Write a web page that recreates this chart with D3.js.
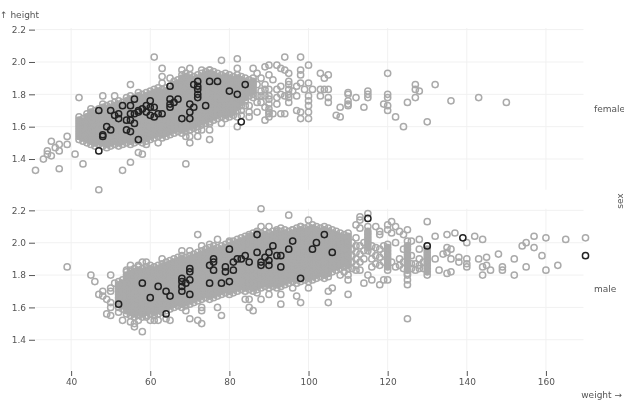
<!DOCTYPE html>
<html><head><meta charset="utf-8">
<script src="https://cdn.jsdelivr.net/npm/d3@7"></script>
<style>
html,body{margin:0;padding:0;background:#fff}
svg{display:block;overflow:hidden;filter:blur(0.4px)}
text{font-family:"DejaVu Sans",sans-serif;font-size:9px;fill:#555}
</style></head><body>
<script>
// Each row: weight (kg) followed by the heights (cm) seen at that weight.
const femaleDense = [
[42,152,154,156,158,160,162,164,166],
[43,151,153,155,157,159,161,163,165],
[44,150,152,154,156,158,160,162,164,166,168],
[45,149,151,153,155,157,159,161,163,165,167,169,171],
[46,148,150,152,154,156,158,160,162,164,166,168,170],
[47,149,151,153,155,157,159,161,163,165,167,169,171],
[48,148,150,152,154,156,158,160,162,164,166,168,170,172,174],
[49,147,149,151,153,155,157,159,161,163,165,167,169,171,173],
[50,148,150,152,154,156,158,160,162,164,166,168,170,172,174],
[51,149,151,153,155,157,159,161,163,165,167,169,171,173,175],
[52,148,150,152,154,156,158,160,162,164,166,168,170,172,174,176],
[53,149,151,153,155,157,159,161,163,165,167,169,171,173,175],
[54,150,152,154,156,158,160,162,164,166,168,170,172,174,176,178],
[55,149,151,153,155,157,159,161,163,165,167,169,171,173,175,177,179],
[56,150,152,154,156,158,160,162,164,166,168,170,172,174,176,178],
[57,151,153,155,157,159,161,163,165,167,169,171,173,175,177,179,181],
[58,150,152,154,156,158,160,162,164,166,168,170,172,174,176,178,180],
[59,151,153,155,157,159,161,163,165,167,169,171,173,175,177,179,181],
[60,152,154,156,158,160,162,164,166,168,170,172,174,176,178,180,182],
[61,153,155,157,159,161,163,165,167,169,171,173,175,177,179,181,183],
[62,154,156,158,160,162,164,166,168,170,172,174,176,178,180,182,184],
[63,153,155,157,159,161,163,165,167,169,171,173,175,177,179,181,183],
[64,154,156,158,160,162,164,166,168,170,172,174,176,178,180,182,184],
[65,155,157,159,161,163,165,167,169,171,173,175,177,179,181,183,185],
[66,156,158,160,162,164,166,168,170,172,174,176,178,180,182,184,186,188],
[67,157,159,161,163,165,167,169,171,173,175,177,179,181,183,185,187,189],
[68,156,158,160,162,164,166,168,170,172,174,176,178,180,182,184,186,188,190,192],
[69,157,159,161,163,165,167,169,171,173,175,177,179,181,183,185,187,189,191,193],
[70,158,160,162,164,166,168,170,172,174,176,178,180,182,184,186,188,190,192],
[71,159,161,163,165,167,169,171,173,175,177,179,181,183,185,187,189,191],
[72,160,162,164,166,168,170,172,174,176,178,180,182,184,186,188,190,192],
[73,161,163,165,167,169,171,173,175,177,179,181,183,185,187,189,191,193],
[74,162,164,166,168,170,172,174,176,178,180,182,184,186,188,190,192,194],
[75,163,165,167,169,171,173,175,177,179,181,183,185,187,189,191,193,195],
[76,164,166,168,170,172,174,176,178,180,182,184,186,188,190,192,194],
[77,165,167,169,171,173,175,177,179,181,183,185,187,189,191,193],
[78,166,168,170,172,174,176,178,180,182,184,186,188,190,192],
[79,165,167,169,171,173,175,177,179,181,183,185,187,189,191,193],
[80,166,168,170,172,174,176,178,180,182,184,186,188,190,192],
[81,167,169,171,173,175,177,179,181,183,185,187,189,191],
[82,170,172,174,176,178,180,182,184,186,188,190,192],
[83,173,175,177,179,181,183,185,187,189,191],
[84,176,178,180,182,184,186,188,190],
[85,179,181,183,185,187,189],
[86,180,182,184,186,188,190]
];
const femaleSparse = [
[31,133],[33,140],[34,145],[34,143],[35,151],[35,142],[36,147],[37,149],[37,145],[37,134],[39,149],[39,154],[41,143],[42,178],[43,137],
[47,121],[48,179],[51,179],[53,133],[55,138],[55,186],[57,144],[58,143],[59,149],[62,150],[69,137],[61,203],[63,196],[63,191],[63,187],[65,190],
[68,195],[70,196],[73,195],[75,195],[78,201],[82,202],[82,196],[75,152],[72,154],[70,150],[73,158],[70,158],[70,154],[75,158],[75,162],[72,158],[69,154],
[78,162],[82,160],[83,167],[85,166],[87,169],[89,164],[90,166],[90,169],[89,172],[86,196],[89,197],[90,198],[92,198],[93,196],[94,195],[95,193],[94,203],
[98,203],[98,195],[98,192],[100,198],[103,193],[87,193],[88,190],[90,192],[91,189],[89,186],[87,186],[88,182],[90,183],[86,178],[87,175],[87,179],[88,179],[88,175],
[89,179],[89,183],[90,179],[90,177],[90,174],[90,171],[90,168],[95,188],[95,186],[95,183],[95,180],[95,178],[95,175],[93,185],[94,179],[97,179],[98,187],[100,187],[101,183],
[99,183],[103,179],[100,179],[100,176],[100,173],[100,169],[100,165],[98,169],[98,165],[97,170],[94,168],[93,168],[92,174],[91,168],[85,173],[85,169],[84,173],[83,170],[82,166],
[93,180],[92,183],[96,182],[97,185],[92,178],[103,183],[104,190],[105,192],[104,183],[105,183],[105,178],[105,175],[107,167],[108,166],[108,172],[110,181],[110,180],[110,176],[110,174],[110,173],
[112,178],[114,172],[115,182],[115,180],[115,178],[119,174],[120,193],[120,180],[120,178],[120,173],[120,170],[122,166],[124,160],[125,175],[127,186],[127,183],[127,178],[128,182],[130,163],[132,186],
[136,176],[143,178],[150,175]
];
const femaleMarked = [
[47,170],[47,145],[48,154],[48,155],[49,160],[50,158],[50,170],[51,167],[52,168],[52,165],[53,173],[54,164],[54,158],[55,173],[55,168],[55,157],[55,164],[56,177],[56,168],[56,162],
[57,170],[57,169],[57,152],[58,171],[59,173],[59,169],[60,176],[60,172],[60,167],[61,172],[61,166],[62,168],[63,168],[65,185],[65,177],[65,174],[65,172],[66,175],[67,177],[68,165],
[70,174],[70,169],[70,165],[71,186],[71,172],[72,188],[72,185],[72,183],[72,180],[72,178],[74,173],[75,188],[77,188],[80,182],[82,180],[83,163],[84,186]
];
const maleDense = [
[52,160,162,164,166,168,170,172,174,176],
[53,159,161,163,165,167,169,171,173,175,177],
[54,156,158,160,162,164,166,168,170,172,174,176,178,180,182],
[55,155,157,159,161,163,165,167,169,171,173,175,177,179,181,183],
[56,154,156,158,160,162,164,166,168,170,172,174,176,178,180,182,184],
[57,155,157,159,161,163,165,167,169,171,173,175,177,179,181,183,185],
[58,154,156,158,160,162,164,166,168,170,172,174,176,178,180,182,184],
[59,155,157,159,161,163,165,167,169,171,173,175,177,179,181,183,185],
[60,156,158,160,162,164,166,168,170,172,174,176,178,180,182,184,186],
[61,155,157,159,161,163,165,167,169,171,173,175,177,179,181,183,185],
[62,156,158,160,162,164,166,168,170,172,174,176,178,180,182,184,186],
[63,157,159,161,163,165,167,169,171,173,175,177,179,181,183,185,187],
[64,158,160,162,164,166,168,170,172,174,176,178,180,182,184,186,188],
[65,159,161,163,165,167,169,171,173,175,177,179,181,183,185,187,189],
[66,160,162,164,166,168,170,172,174,176,178,180,182,184,186,188,190],
[67,161,163,165,167,169,171,173,175,177,179,181,183,185,187,189,191],
[68,160,162,164,166,168,170,172,174,176,178,180,182,184,186,188,190,192],
[69,161,163,165,167,169,171,173,175,177,179,181,183,185,187,189,191],
[70,162,164,166,168,170,172,174,176,178,180,182,184,186,188,190,192],
[71,163,165,167,169,171,173,175,177,179,181,183,185,187,189,191,193],
[72,164,166,168,170,172,174,176,178,180,182,184,186,188,190,192,194],
[73,165,167,169,171,173,175,177,179,181,183,185,187,189,191,193,195],
[74,166,168,170,172,174,176,178,180,182,184,186,188,190,192,194,196],
[75,165,167,169,171,173,175,177,179,181,183,185,187,189,191,193,195,197],
[76,166,168,170,172,174,176,178,180,182,184,186,188,190,192,194,196,198],
[77,167,169,171,173,175,177,179,181,183,185,187,189,191,193,195,197],
[78,168,170,172,174,176,178,180,182,184,186,188,190,192,194,196,198],
[79,169,171,173,175,177,179,181,183,185,187,189,191,193,195,197,199],
[80,168,170,172,174,176,178,180,182,184,186,188,190,192,194,196,198,200],
[81,169,171,173,175,177,179,181,183,185,187,189,191,193,195,197,199,201],
[82,170,172,174,176,178,180,182,184,186,188,190,192,194,196,198,200,202],
[83,171,173,175,177,179,181,183,185,187,189,191,193,195,197,199,201,203],
[84,170,172,174,176,178,180,182,184,186,188,190,192,194,196,198,200,202,204],
[85,171,173,175,177,179,181,183,185,187,189,191,193,195,197,199,201,203,205],
[86,170,172,174,176,178,180,182,184,186,188,190,192,194,196,198,200,202,204,206],
[87,171,173,175,177,179,181,183,185,187,189,191,193,195,197,199,201,203,205,207],
[88,172,174,176,178,180,182,184,186,188,190,192,194,196,198,200,202,204,206],
[89,173,175,177,179,181,183,185,187,189,191,193,195,197,199,201,203,205,207],
[90,172,174,176,178,180,182,184,186,188,190,192,194,196,198,200,202,204,206],
[91,173,175,177,179,181,183,185,187,189,191,193,195,197,199,201,203,205,207],
[92,172,174,176,178,180,182,184,186,188,190,192,194,196,198,200,202,204,206,208],
[93,173,175,177,179,181,183,185,187,189,191,193,195,197,199,201,203,205,207],
[94,174,176,178,180,182,184,186,188,190,192,194,196,198,200,202,204,206,208],
[95,175,177,179,181,183,185,187,189,191,193,195,197,199,201,203,205,207],
[96,176,178,180,182,184,186,188,190,192,194,196,198,200,202,204,206,208],
[97,175,177,179,181,183,185,187,189,191,193,195,197,199,201,203,205,207,209],
[98,176,178,180,182,184,186,188,190,192,194,196,198,200,202,204,206,208,210],
[99,177,179,181,183,185,187,189,191,193,195,197,199,201,203,205,207,209],
[100,176,178,180,182,184,186,188,190,192,194,196,198,200,202,204,206,208,210],
[101,177,179,181,183,185,187,189,191,193,195,197,199,201,203,205,207,209,211],
[102,178,180,182,184,186,188,190,192,194,196,198,200,202,204,206,208,210],
[103,179,181,183,185,187,189,191,193,195,197,199,201,203,205,207,209],
[104,178,180,182,184,186,188,190,192,194,196,198,200,202,204,206,208,210],
[105,179,181,183,185,187,189,191,193,195,197,199,201,203,205,207,209],
[106,182,184,186,188,190,192,194,196,198,200,202,204,206,208],
[107,183,185,187,189,191,193,195,197,199,201,203,205,207],
[108,184,186,188,190,192,194,196,198,200,202,204,206],
[109,185,187,189,191,193,195,197,199,201,203,205],
[110,184,186,188,190,192,194,196,198,200,202,204,206],
[115,195,197,199,201,203,205,207,210],
[120,183,185,187,189,191,193,195,197,199],
[125,181,183,186,188,191,193,196,198,201],
[130,180,182,184,186,188,190,192,194,196,198]
];
const maleSparse = [
[39,185],[45,180],[46,176],[47,168],[48,170],[48,167],[49,165],[49,156],[50,180],[50,155],[50,172],[50,170],[50,163],[50,160],[51,175],[52,157],[53,152],[54,183],[55,151],
[56,150],[56,148],[57,152],[58,145],[59,154],[60,152],[61,152],[62,152],[64,153],[65,152],[70,153],[72,152],[73,150],[73,158],[73,160],[69,158],[77,160],[78,155],[77,202],[72,205],[75,199],[73,198],[68,195],[70,195],
[63,190],[59,188],[58,188],[57,186],[55,186],[88,221],[95,217],[100,214],[88,210],[90,210],[93,209],[96,208],[98,210],[87,206],[92,207],[85,204],[80,201],[88,165],[93,162],[98,163],[97,167],[96,172],[90,168],[86,158],[85,160],[84,165],[85,165],[93,168],[87,169],[100,172],
[105,163],[105,170],[106,172],[110,168],[108,180],[110,177],[114,175],[115,180],[116,177],[118,174],[119,177],[120,177],[125,153],[125,174],[125,177],[125,180],[115,218],[113,216],[113,214],[112,211],[117,210],[118,207],[120,211],[121,213],[120,208],[122,210],[123,207],[125,208],[124,205],[126,201],[128,202],[130,213],[132,204],[135,205],[137,206],[140,200],[142,204],[144,202],
[154,198],[155,200],[157,204],[157,197],[160,203],[165,202],[170,203],[148,193],[159,192],[152,190],[145,191],[143,190],[140,190],[140,187],[140,185],[138,191],[138,188],[136,190],[132,190],[135,197],[136,196],[135,194],[134,193],[128,196],[128,190],[133,183],[135,181],[136,182],[144,185],[145,186],[146,183],[144,180],[149,185],[149,183],[152,180],[155,185],[160,183],[163,186],
[111,188],[111,192],[111,196],[111,200],[112,186],[112,190],[112,194],[112,198],[112,203],[113,183],[113,188],[113,193],[113,198],[113,209],[114,190],[114,195],[114,200],[116,185],[116,190],[116,194],[116,198],[117,187],[117,192],[117,197],[118,186],[118,191],[118,196],[118,205],[119,188],[119,193],[119,198],[121,188],[121,206],[122,185],[122,200],[123,186],[123,190],[124,184],[124,188],[124,196],[126,184],[126,187],[126,192],[127,183],[127,187],[128,184],[128,186],[129,184],[129,188],[109,182],[110,180],[111,184],[112,183]
];
const maleMarked = [
[52,162],[58,175],[60,166],[62,173],[64,170],[64,156],[65,167],[68,178],[68,176],[68,173],[68,170],[69,175],[70,184],[70,182],[70,177],[70,168],[75,186],[75,175],[76,190],[76,188],[76,183],[78,175],[79,185],[79,182],[80,196],[80,176],
[81,188],[81,183],[82,190],[83,190],[84,192],[85,188],[87,205],[87,194],[88,188],[88,186],[89,191],[90,194],[90,189],[90,186],[91,198],[92,192],[93,192],[93,185],[95,196],[96,201],[98,178],[101,196],[102,200],[104,205],[106,194],[115,215],[130,198],[139,203],[170,192]
];
const weightDomain = [31, 170];
const heightDomain = [1.21, 2.21];
const weightTicks = [40, 60, 80, 100, 120, 140, 160];
const heightTicks = [1.4, 1.6, 1.8, 2.0, 2.2];
const panels = ["female", "male"];

// A ring in the middle of a crowded column is closed in by its neighbours, so it is painted solid.
const unroll = rows => rows.flatMap(([w, ...hs]) => hs.map((h, i) => [w, h / 100, i > 0 && i < hs.length - 1]));
const pairs = rows => rows.map(([w, h]) => [w, h / 100, false]);
const panelData = {
  female: {grey: unroll(femaleDense).concat(pairs(femaleSparse)), dark: pairs(femaleMarked)},
  male: {grey: unroll(maleDense).concat(pairs(maleSparse)), dark: pairs(maleMarked)}
};

const svg = d3.select("body").append("svg").attr("width", 624).attr("height", 400);
const x = d3.scaleLinear().domain(weightDomain).range([35.5, 585.5]);
const band = d3.scaleBand().domain(panels).range([28, 370.5]).paddingInner(0.105);
const h = band.bandwidth();

panels.forEach(name => {
  const top = band(name);
  const y = d3.scaleLinear().domain(heightDomain).range([top + h, top]);
  const g = svg.append("g");
  const gridColor = "#f1f1f1";
  g.append("g").selectAll("line").data(weightTicks).join("line")
    .attr("x1", d => x(d)).attr("x2", d => x(d)).attr("y1", top).attr("y2", top + h)
    .attr("stroke", gridColor);
  g.append("g").selectAll("line").data(heightTicks).join("line")
    .attr("x1", x.range()[0]).attr("x2", x.range()[1] - 2).attr("y1", d => y(d)).attr("y2", d => y(d))
    .attr("stroke", gridColor);
  const ya = g.append("g").attr("transform", "translate(35,0)")
    .call(d3.axisLeft(y).tickValues(heightTicks).tickSize(6).tickPadding(3).tickFormat(d3.format(".1f")));
  ya.select(".domain").remove();
  ya.selectAll(".tick line").attr("stroke", "#555");
  const ring = (pts, color) => g.append("g").selectAll("circle").data(pts).join("circle")
    .attr("cx", d => x(d[0])).attr("cy", d => y(d[1])).attr("r", 3.1)
    .attr("fill", d => d[2] ? color : "none").attr("stroke", color).attr("stroke-width", 1.5);
  ring(panelData[name].grey, "#aaaaaa");
  ring(panelData[name].dark, "#222222");
  svg.append("text").attr("x", 594).attr("y", top + h / 2).attr("dy", "0.32em").text(name);
});

const xa = svg.append("g").attr("transform", "translate(0,371)")
  .call(d3.axisBottom(x).tickValues(weightTicks).tickSize(5).tickPadding(3));
xa.select(".domain").remove();
xa.selectAll(".tick line").attr("stroke", "#555");
d3.selectAll(".tick text").style("font-size", "9px").style("font-family", '"DejaVu Sans",sans-serif').attr("fill", "#555");

svg.append("text").attr("x", 0).attr("y", 18).text("↑ height");
svg.append("text").attr("x", 622).attr("y", 398).attr("text-anchor", "end").text("weight →");
svg.append("text").attr("transform", "translate(623,201) rotate(-90)").attr("text-anchor", "middle").text("sex");
</script>
</body></html>
